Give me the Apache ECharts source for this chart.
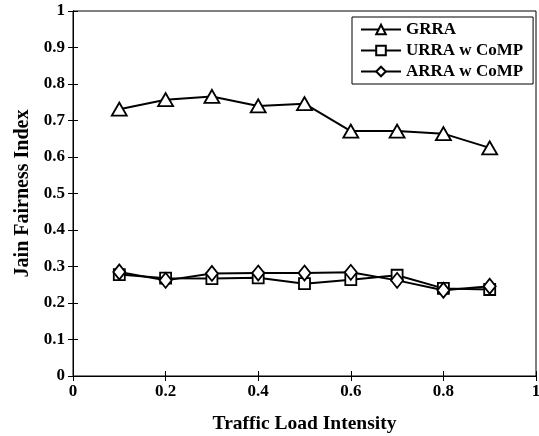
<!DOCTYPE html>
<html><head><meta charset="utf-8">
<script src="https://cdn.jsdelivr.net/npm/echarts@6/dist/echarts.min.js"></script>
<style>html,body{margin:0;padding:0;background:#fff}#c{width:539px;height:436px}</style>
</head><body><div id="c"></div>
<script>
var xValues = [0.1, 0.2, 0.3, 0.4, 0.5, 0.6, 0.7, 0.8, 0.9];
var grra = [0.731, 0.757, 0.766, 0.740, 0.746, 0.671, 0.671, 0.664, 0.625];
var urra = [0.278, 0.268, 0.267, 0.269, 0.253, 0.264, 0.276, 0.240, 0.237];
var arra = [0.285, 0.262, 0.281, 0.282, 0.282, 0.284, 0.262, 0.235, 0.246];
var seriesNames = ['GRRA', 'URRA w CoMP', 'ARRA w CoMP'];

var font = 'Liberation Serif';
function pairs(v){ return xValues.map(function(x,i){return [x, v[i]];}); }
function mk(name, data, sym, size){
  return {name:name, type:'line', data:pairs(data), symbol:sym, symbolSize:size,
    lineStyle:{color:'#000', width:2}, itemStyle:{color:'#fff', borderColor:'#000', borderWidth:1.8},
    showAllSymbol:true, z:3};
}
var chart = echarts.init(document.getElementById('c'));
var axCommon = {min:0, max:1, interval:0.2, axisLine:{show:true, lineStyle:{color:'#000', width:1}},
  axisTick:{inside:true, length:5, lineStyle:{color:'#000'}}, splitLine:{show:false}};
chart.setOption({
  animation:false,
  backgroundColor:'#fff',
  grid:{left:73, right:3, top:11, bottom:60, show:true, borderColor:'#000', borderWidth:1,
    containLabel:false, outerBoundsMode:'none'},
  legend:{orient:'vertical', left:352, top:17, data:seriesNames,
    itemWidth:40, itemHeight:12, itemGap:4, padding:[4,10,4,8],
    borderColor:'#000', borderWidth:1, backgroundColor:'#fff',
    textStyle:{fontFamily:font, fontWeight:'bold', fontSize:17, color:'#000'}},
  xAxis:[
    Object.assign({}, axCommon, {type:'value', position:'bottom', name:'Traffic Load Intensity',
      nameLocation:'middle', nameGap:38, nameTextStyle:{fontFamily:font, fontWeight:'bold', fontSize:19.5, color:'#000'},
      axisLabel:{fontFamily:font, fontWeight:'bold', fontSize:17, color:'#000', margin:7}}),
    Object.assign({}, axCommon, {type:'value', position:'top', axisLabel:{show:false}})
  ],
  yAxis:[
    Object.assign({}, axCommon, {type:'value', interval:0.1, position:'left', name:'Jain Fairness Index',
      nameLocation:'middle', nameGap:40, nameTextStyle:{fontFamily:font, fontWeight:'bold', fontSize:20, color:'#000'},
      axisLabel:{fontFamily:font, fontWeight:'bold', fontSize:17, color:'#000', margin:8,
        formatter:function(v){return String(Math.round(v*10)/10);}}}),
    Object.assign({}, axCommon, {type:'value', interval:0.1, position:'right', axisLabel:{show:false}})
  ],
  series:[
    mk(seriesNames[0], grra, 'triangle', [15,13]),
    mk(seriesNames[1], urra, 'rect', 11),
    mk(seriesNames[2], arra, 'diamond', [12,15])
  ]
});
</script></body></html>
